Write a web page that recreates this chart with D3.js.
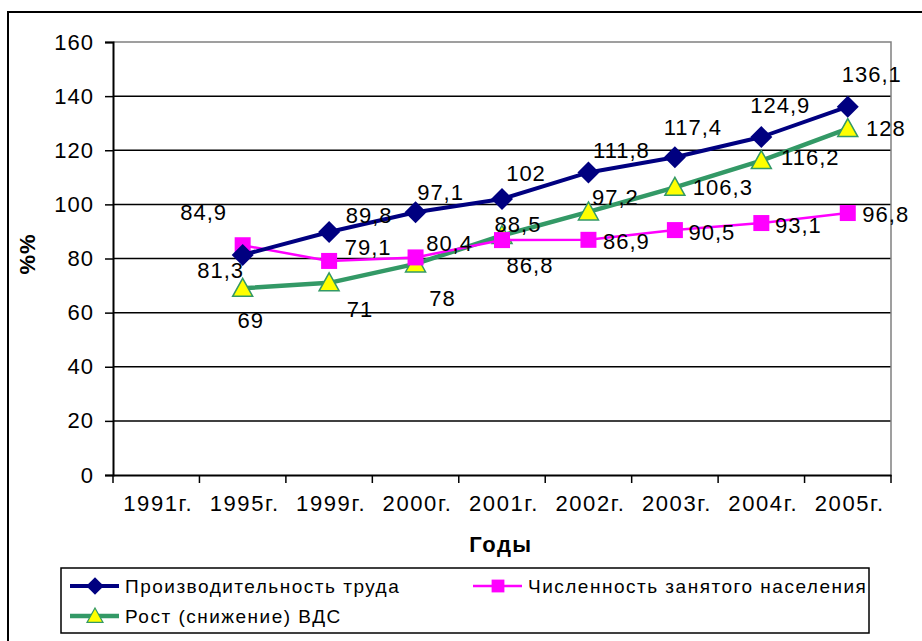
<!DOCTYPE html>
<html>
<head>
<meta charset="utf-8">
<script src="https://cdn.jsdelivr.net/npm/d3@7"></script>
<style>
  body { margin: 0; background: #fff; }
  text { font-family: "Liberation Sans", Arial, sans-serif; fill: #000; }
</style>
</head>
<body>
<svg id="chart" width="922" height="641"></svg>
<script>
// данные
var categories = ["1991г.", "1995г.", "1999г.", "2000г.", "2001г.", "2002г.", "2003г.", "2004г.", "2005г."];
var dataYears = ["1995г.", "1999г.", "2000г.", "2001г.", "2002г.", "2003г.", "2004г.", "2005г."];
var productivity = [81.3, 89.8, 97.1, 102, 111.8, 117.4, 124.9, 136.1];
var employment = [84.9, 79.1, 80.4, 86.8, 86.9, 90.5, 93.1, 96.8];
var gva = [69, 71, 78, 88.5, 97.2, 106.3, 116.2, 128];
var yTicks = [0, 20, 40, 60, 80, 100, 120, 140, 160];

// смещения подписей (как в оригинале)
var offProd = [[-22, 16], [40, -16], [25, -20], [24, -25], [33, -22], [18, -30], [19, -31], [24, -32]];
var offEmp = [[-39, -33], [39, -13], [34, -14], [28, 25], [38, 2], [37, 2], [37, 2], [38, 1]];
var offGva = [[8, 32], [31, 27], [27, 35], [16, -11], [27, -14], [48, 0], [49, -3], [38, 0]];

(function() {
var series = [
  {name: "Производительность труда", values: productivity, off: offProd, color: "#000080", width: 4, marker: "diamond"},
  {name: "Численность занятого населения", values: employment, off: offEmp, color: "#ff00ff", width: 2.5, marker: "square"},
  {name: "Рост (снижение) ВДС", values: gva, off: offGva, color: "#339966", width: 4.5, marker: "triangle"}
];

var svg = d3.select("#chart");
var pl = 113, pr = 891, pt = 42, pb = 475;

var x = d3.scaleBand().domain(categories).range([pl, pr]).padding(0);
var y = d3.scaleLinear().domain([0, 160]).range([pb, pt]);
function cx(c) { return x(c) + x.bandwidth() / 2; }

// рамка диаграммы
svg.append("rect")
    .attr("x", 8).attr("y", 12).attr("width", 930).attr("height", 650)
    .attr("fill", "none").attr("stroke", "#000").attr("stroke-width", 2);

// сетка
svg.append("g").selectAll("line")
    .data(yTicks.filter(function(d) { return d > 0 && d < 160; }))
    .enter().append("line")
    .attr("x1", pl).attr("x2", pr)
    .attr("y1", function(d) { return y(d); }).attr("y2", function(d) { return y(d); })
    .attr("stroke", "#000").attr("stroke-width", 1.5);

// граница области построения
svg.append("path")
    .attr("d", "M" + pl + "," + y(160) + "H" + pr + "V" + pb)
    .attr("fill", "none").attr("stroke", "#808080").attr("stroke-width", 1.5);

// ось Y
var yAxis = svg.append("g")
    .attr("transform", "translate(" + pl + ",0)")
    .call(d3.axisLeft(y).tickValues(yTicks).tickSize(8).tickPadding(12));
yAxis.select(".domain").attr("stroke", "#000").attr("stroke-width", 2);
yAxis.selectAll(".tick line").attr("stroke", "#000").attr("stroke-width", 1.5);
yAxis.selectAll(".tick text")
    .attr("font-family", "Liberation Sans, Arial, sans-serif")
    .attr("font-size", 22).attr("letter-spacing", 1).attr("dx", 1);

// ось X
var xAxis = svg.append("g")
    .attr("transform", "translate(0," + pb + ")")
    .call(d3.axisBottom(x).tickSize(0).tickPadding(20));
xAxis.select(".domain").attr("stroke", "#000").attr("stroke-width", 2);
xAxis.selectAll(".tick text")
    .attr("font-family", "Liberation Sans, Arial, sans-serif")
    .attr("font-size", 22).attr("letter-spacing", 1.6).attr("dx", 2);
xAxis.append("g").selectAll("line")
    .data(categories.concat(["end"]))
    .enter().append("line")
    .attr("x1", function(d) { return d === "end" ? pr : x(d); })
    .attr("x2", function(d) { return d === "end" ? pr : x(d); })
    .attr("y1", 0).attr("y2", 8)
    .attr("stroke", "#000").attr("stroke-width", 1.5);

// подписи осей
svg.append("text")
    .attr("x", (pl + pr) / 2 - 1).attr("y", 552)
    .attr("text-anchor", "middle")
    .attr("font-size", 22).attr("font-weight", "bold").attr("letter-spacing", 1.5)
    .text("Годы");
svg.append("text")
    .attr("transform", "translate(35,254) rotate(-90)")
    .attr("text-anchor", "middle")
    .attr("font-size", 22).attr("font-weight", "bold").attr("letter-spacing", 1)
    .text("%%");

function drawMarker(g, type, color) {
  if (type === "diamond") {
    g.append("path").attr("d", "M0,-11L11,0L0,11L-11,0Z").attr("fill", color);
  } else if (type === "square") {
    g.append("rect").attr("x", -8).attr("y", -8).attr("width", 16).attr("height", 16).attr("fill", color);
  } else {
    g.append("path").attr("d", "M0,-10L10,8L-10,8Z")
        .attr("fill", "#ffff00").attr("stroke", color).attr("stroke-width", 1.5);
  }
}

var line = d3.line()
    .x(function(d, i) { return cx(dataYears[i]); })
    .y(function(d) { return y(d); });

// линии — сначала ВДС, потом численность, потом производительность
[series[2], series[1], series[0]].forEach(function(s) {
  svg.append("path")
      .datum(s.values)
      .attr("d", line)
      .attr("fill", "none")
      .attr("stroke", s.color)
      .attr("stroke-width", s.width)
      .attr("stroke-linejoin", "round");
  s.values.forEach(function(v, i) {
    var g = svg.append("g").attr("transform", "translate(" + cx(dataYears[i]) + "," + y(v) + ")");
    drawMarker(g, s.marker, s.color);
  });
});

// подписи значений
series.forEach(function(s) {
  svg.append("g").selectAll("text")
      .data(s.values)
      .enter().append("text")
      .attr("x", function(d, i) { return cx(dataYears[i]) + s.off[i][0]; })
      .attr("y", function(d, i) { return y(d) + s.off[i][1]; })
      .attr("text-anchor", "middle")
      .attr("dominant-baseline", "central")
      .attr("font-size", 22).attr("letter-spacing", 1)
      .text(function(d) { return String(d).replace(".", ","); });
});

// легенда
var legend = svg.append("g");
legend.append("rect")
    .attr("x", 61).attr("y", 568).attr("width", 808).attr("height", 65)
    .attr("fill", "#fff").attr("stroke", "#000").attr("stroke-width", 1.5);
var legPos = [[70, 586], [473, 586], [70, 616]];
series.forEach(function(s, i) {
  var p = legPos[i];
  var g = legend.append("g").attr("transform", "translate(" + p[0] + "," + p[1] + ")");
  g.append("line").attr("x1", 0).attr("x2", 49).attr("y1", 0).attr("y2", 0)
      .attr("stroke", s.color).attr("stroke-width", s.width);
  var m = g.append("g").attr("transform", "translate(25,0) scale(0.8)");
  drawMarker(m, s.marker, s.color);
  g.append("text")
      .attr("x", 55).attr("y", 0)
      .attr("dominant-baseline", "central")
      .attr("font-size", 19).attr("letter-spacing", 1.5)
      .text(s.name);
});
})();
</script>
</body>
</html>
